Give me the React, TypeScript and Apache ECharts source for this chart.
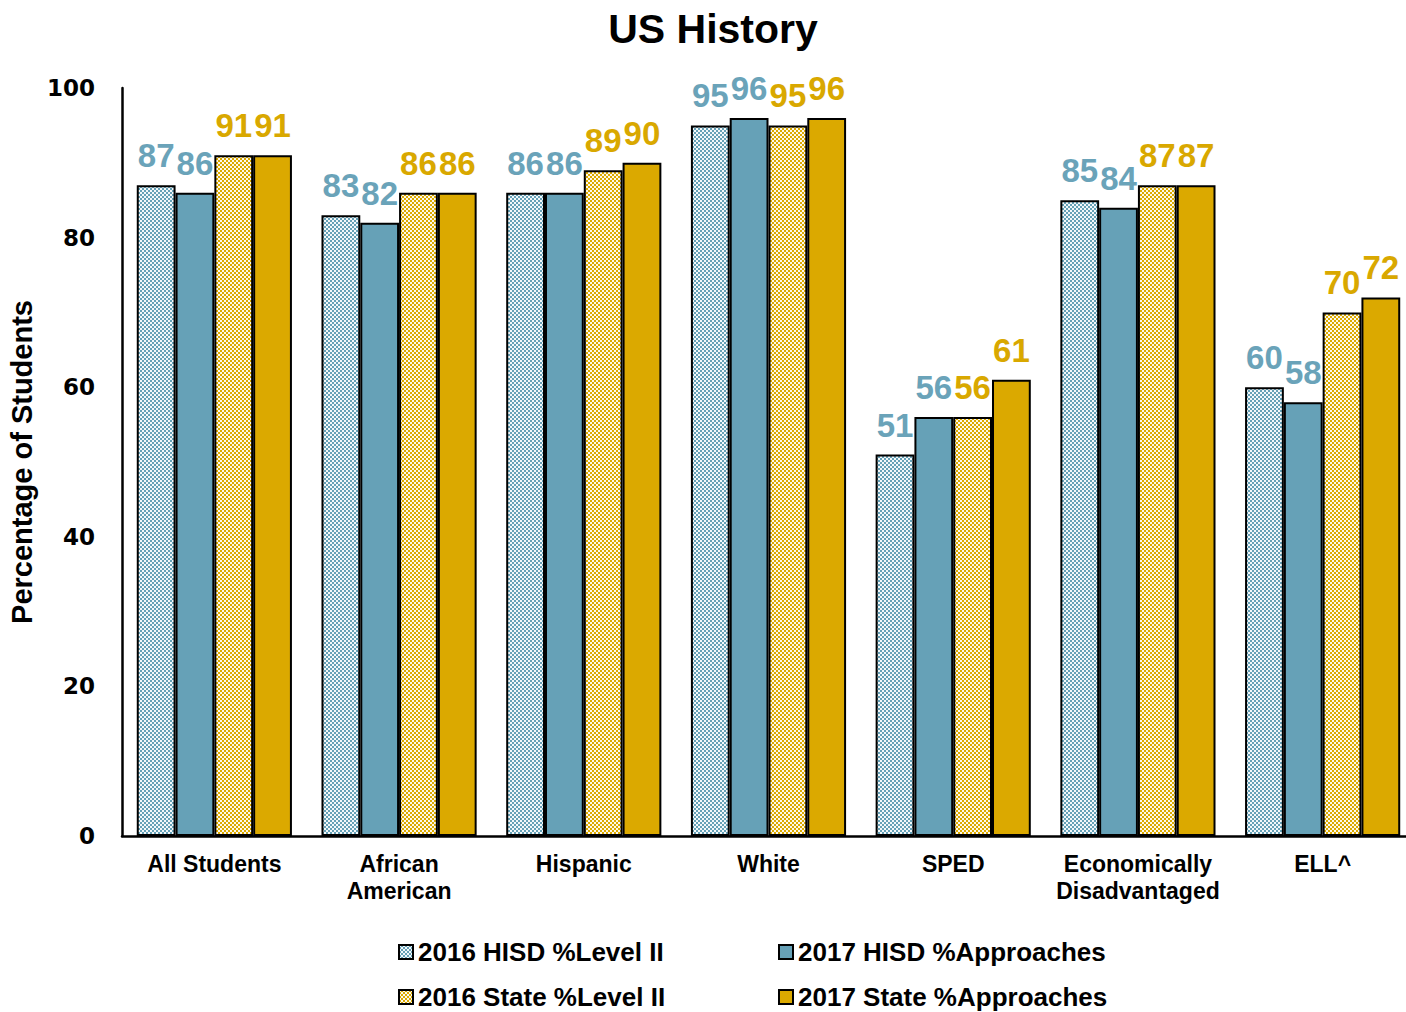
import React, { useEffect, useRef } from "react";
import * as echarts from "echarts";

const categories = [
  "All Students",
  "African\nAmerican",
  "Hispanic",
  "White",
  "SPED",
  "Economically\nDisadvantaged",
  "ELL^",
];
const seriesNames = [
  "2016 HISD %Level II",
  "2017 HISD %Approaches",
  "2016 State %Level II",
  "2017 State %Approaches",
];
const hisd2016 = [87, 83, 86, 95, 51, 85, 60];
const hisd2017 = [86, 82, 86, 96, 56, 84, 58];
const state2016 = [91, 86, 89, 95, 56, 87, 70];
const state2017 = [91, 86, 90, 96, 61, 87, 72];
const yTicks = [0, 20, 40, 60, 80, 100];

const BLUE = "#66a1b7";
const GOLD = "#dba900";
const BLUE_LABEL = "#6aa3b9";
const GOLD_LABEL = "#d9a800";

function makePattern(color: string) {
  const c = document.createElement("canvas");
  c.width = 4;
  c.height = 4;
  const ctx = c.getContext("2d")!;
  ctx.fillStyle = color;
  ctx.fillRect(0, 0, 4, 4);
  ctx.fillStyle = "rgba(255,255,255,0.92)";
  ctx.fillRect(0, 0, 2, 2);
  ctx.fillRect(2, 2, 2, 2);
  return { image: c, repeat: "repeat" } as any;
}

export default function App() {
  const ref = useRef<HTMLDivElement>(null);
  useEffect(() => {
    if (!ref.current) return;
    const chart = echarts.init(ref.current, undefined, { renderer: "svg" });
    const datasets = [hisd2016, hisd2017, state2016, state2017];
    const fills = [makePattern(BLUE), BLUE, makePattern(GOLD), GOLD];
    const labelColors = [BLUE_LABEL, BLUE_LABEL, GOLD_LABEL, GOLD_LABEL];
    const legendPos = [
      { left: 398, top: 939 },
      { left: 778, top: 939 },
      { left: 398, top: 984 },
      { left: 778, top: 984 },
    ];
    chart.setOption({
      animation: false,
      backgroundColor: "#ffffff",
      title: {
        text: "US History",
        left: 708,
        top: 3,
        textAlign: "center",
        textStyle: {
          fontFamily: "Liberation Sans, Arial, sans-serif",
          fontWeight: "bold",
          fontSize: 41,
          color: "#000",
        },
      },
      legend: seriesNames.map((n, i) => ({
        data: [n],
        left: legendPos[i].left,
        top: legendPos[i].top,
        padding: 0,
        itemWidth: 14,
        itemHeight: 14,
        itemGap: 4,
        icon: "rect",
        selectedMode: false,
        textStyle: {
          fontFamily: "Liberation Sans, Arial, sans-serif",
          fontWeight: "bold",
          fontSize: 26,
          color: "#000",
          padding: [0, 0, 0, 0],
        },
      })),
      grid: {
        left: 122,
        right: -9,
        top: 88,
        bottom: 176,
        containLabel: false,
        outerBoundsMode: "none",
      },
      xAxis: {
        type: "category",
        data: categories,
        axisLine: { lineStyle: { color: "#000", width: 2.5 } },
        axisTick: { show: false },
        axisLabel: {
          interval: 0,
          margin: 14,
          fontFamily: "Liberation Sans, Arial, sans-serif",
          fontWeight: "bold",
          fontSize: 23,
          lineHeight: 27,
          color: "#000",
        },
      },
      yAxis: {
        type: "value",
        min: 0,
        max: 100,
        interval: 20,
        name: "Percentage of Students",
        nameLocation: "middle",
        nameGap: 86,
        nameTextStyle: {
          fontFamily: "Liberation Sans, Arial, sans-serif",
          fontWeight: "bold",
          fontSize: 29,
          color: "#000",
        },
        axisLine: { show: true, lineStyle: { color: "#000", width: 2.5 } },
        axisTick: { show: false },
        splitLine: { show: false },
        axisLabel: {
          margin: 27,
          fontFamily: "DejaVu Sans, Verdana, sans-serif",
          fontWeight: "bold",
          fontSize: 23,
          color: "#000",
          formatter: (v: number) => (yTicks.includes(v) ? String(v) : ""),
        },
      },
      series: datasets.map((d, i) => ({
        name: seriesNames[i],
        type: "bar",
        data: d,
        barGap: "0%",
        barCategoryGap: "16%",
        itemStyle: { color: fills[i], borderColor: "#000", borderWidth: 2 },
        label: {
          show: true,
          position: "top",
          distance: 13,
          color: labelColors[i],
          fontFamily: "Liberation Sans, Arial, sans-serif",
          fontWeight: "bold",
          fontSize: 33,
        },
      })),
    });
    return () => chart.dispose();
  }, []);
  return (
    <div
      ref={ref}
      style={{ width: 1406, height: 1012, position: "absolute", left: 0, top: 0 }}
    />
  );
}
